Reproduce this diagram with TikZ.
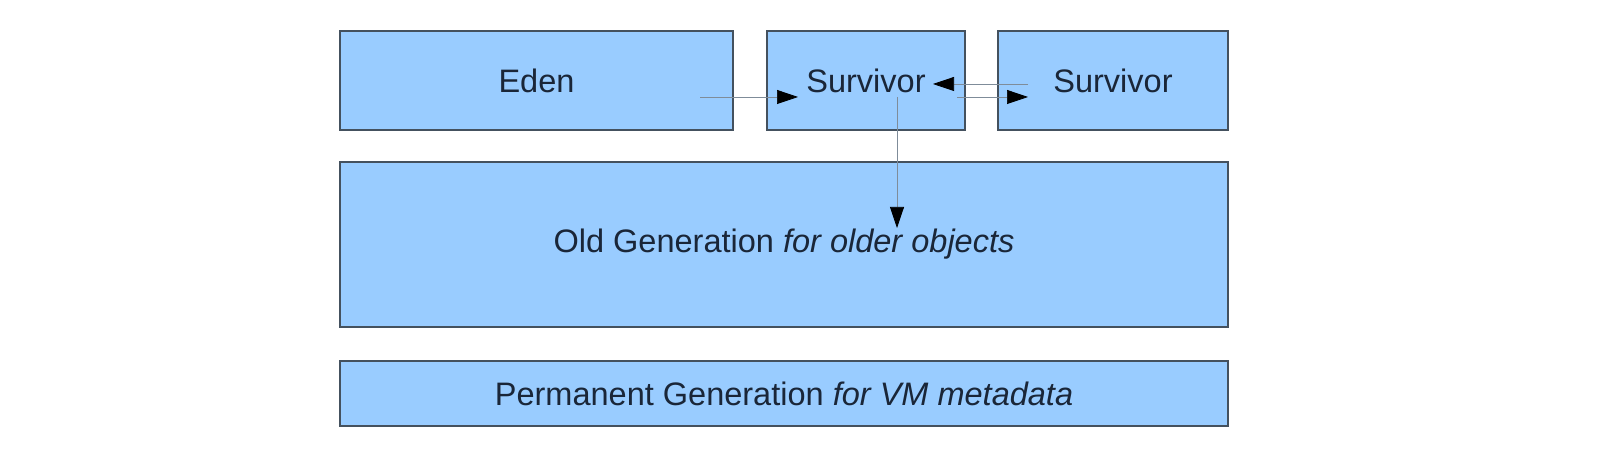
\documentclass[tikz,border=0pt]{standalone}
\usepackage{fontspec}
\setmainfont{Liberation Sans}
\usepackage{xcolor}
\usetikzlibrary{arrows.meta}

\definecolor{heapfill}{HTML}{99CCFF}
\definecolor{heapline}{HTML}{44515E}
\definecolor{heaptext}{HTML}{1A2638}
\definecolor{movecol}{HTML}{7F8C99}

\begin{document}
\begin{tikzpicture}[
    area/.style={shape=rectangle, draw=heapline, fill=heapfill, line width=1.1pt,
      text=heaptext, font=\fontsize{18.5}{22}\selectfont, inner sep=0pt},
    move/.style={draw=movecol, line width=0.4pt,
      -{Triangle[length=0.42cm,width=0.28cm,color=black]}}]
    \useasboundingbox (0,0) rectangle (32.06,9.1);

    \node[area, minimum width=7.86cm, minimum height=1.98cm] (eden) at (10.73,7.49) {Eden};
    \node[area, minimum width=3.96cm, minimum height=1.98cm] (survA) at (17.32,7.49) {Survivor};
    \node[area, minimum width=4.6cm, minimum height=1.98cm] (survB) at (22.26,7.49) {Survivor};
    \node[area, minimum width=17.76cm, minimum height=3.3cm] (old) at (15.68,4.21) {Old Generation \textit{for older objects}};
    \node[area, minimum width=17.76cm, minimum height=1.3cm] (perm) at (15.68,1.23) {Permanent Generation \textit{for VM metadata}};

    % ends of the moves between the spaces
    \coordinate (edenOut) at (14.0,7.16);
    \coordinate (survAin) at (15.96,7.16);
    \coordinate (survAback) at (18.66,7.42);
    \coordinate (survBout) at (20.56,7.42);
    \coordinate (survAout) at (19.14,7.16);
    \coordinate (survBin) at (20.56,7.16);
    \coordinate (survAdown) at (17.94,7.16);
    \coordinate (oldIn) at (17.94,4.54);

    \draw[move] (edenOut) -- (survAin);
    \draw[move] (survBout) -- (survAback);
    \draw[move] (survAout) -- (survBin);
    \draw[move] (survAdown) -- (oldIn);
  \end{tikzpicture}
\end{document}
